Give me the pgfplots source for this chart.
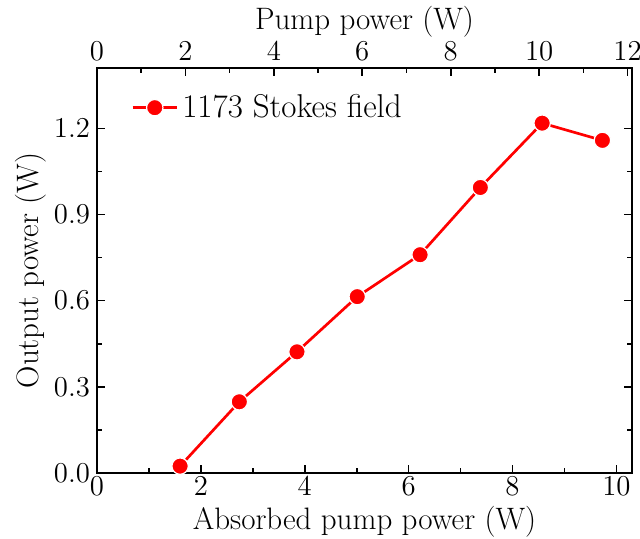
\documentclass[border=0pt]{standalone}
\usepackage{pgfplots}
\pgfplotsset{compat=1.18}
\begin{document}
\begin{tikzpicture}
\begin{axis}[
  name=main,
  scale only axis, width=267.5pt, height=202.5pt,
  xmin=0, xmax=10.3, ymin=0, ymax=1.41,
  xtick={0,2,4,6,8,10}, minor x tick num=1,
  ytick={0,0.3,0.6,0.9,1.2}, minor y tick num=1,
  tick align=inside, xtick pos=bottom, ytick pos=both,
  major tick length=4pt, minor tick length=2.5pt,
  every tick/.style={black, line width=0.8pt},
  axis line style={line width=1pt},
  yticklabel style={/pgf/number format/.cd, fixed, fixed zerofill, precision=1},
  tick label style={font=\fontsize{14}{16}\selectfont},
  xticklabel style={yshift=1.5pt},
  label style={font=\fontsize{15.5}{18}\selectfont},
  xlabel={Absorbed pump power (W)},
  ylabel={Output power (W)},
  xlabel style={at={(axis description cs:0.5,-0.14)}, anchor=base},
  ylabel style={at={(axis description cs:-0.110,0.5)}, anchor=base, rotate=0},
  legend style={at={(0.052,0.902)}, anchor=west, draw=none, fill=none, font=\fontsize{16.5}{18}\selectfont},
  legend image code/.code={\draw[mark repeat=2,mark phase=2,#1] plot coordinates {(0cm,0cm)(0.39cm,0cm)(0.78cm,0cm)};},
]
\addplot[red, line width=1.35pt, mark=*, mark size=4.1pt, mark options={fill=red, draw=white, line width=0.6pt}]
coordinates {
(1.60,0.024)
(2.74,0.248)
(3.85,0.422)
(5.01,0.614)
(6.22,0.760)
(7.38,0.994)
(8.57,1.218)
(9.73,1.158)
};
\addlegendentry{1173 Stokes field}
\end{axis}
\begin{axis}[
  scale only axis, width=267.5pt, height=202.5pt,
  xmin=0, xmax=12.1, ymin=0, ymax=1.41,
  axis x line*=top, hide y axis,
  xtick={0,2,4,6,8,10,12}, minor x tick num=1,
  tick align=inside,
  major tick length=4pt, minor tick length=2.5pt,
  every tick/.style={black, line width=0.8pt},
  axis line style={line width=1pt},
  tick label style={font=\fontsize{14}{16}\selectfont},
  label style={font=\fontsize{15.5}{18}\selectfont},
  xlabel={Pump power (W)},
  xlabel style={at={(axis description cs:0.5,1.094)}, anchor=base},
]
\end{axis}
\pgfresetboundingbox
\path ([xshift=-48.5pt,yshift=-32.5pt]main.south west) rectangle ([xshift=4pt,yshift=34pt]main.north east);
\end{tikzpicture}
\end{document}
